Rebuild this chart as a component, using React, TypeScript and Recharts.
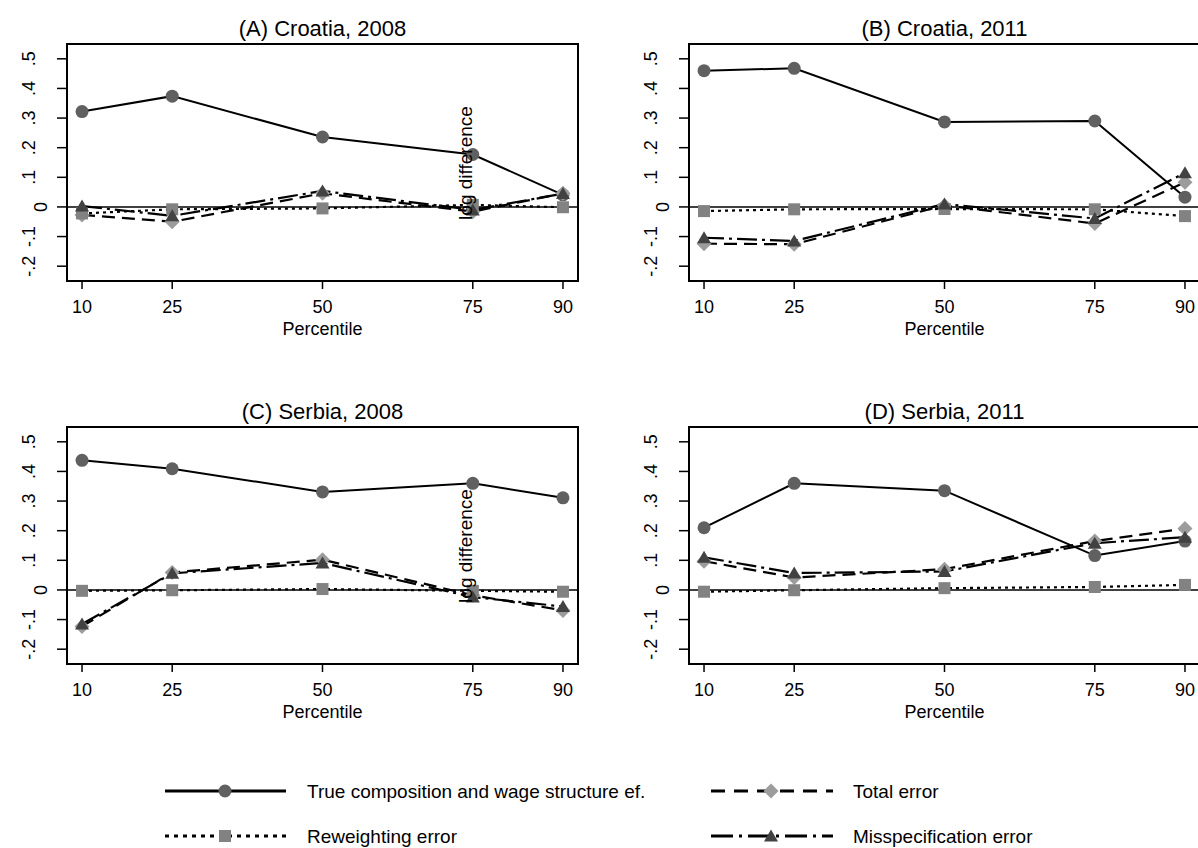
import React from 'react';
import { LineChart, Line, XAxis, YAxis, ReferenceLine, ReferenceArea } from 'recharts';

const FONT = '"Liberation Sans", Arial, sans-serif';

const percentiles = [10, 25, 50, 75, 90];
const xTicks = [10, 25, 50, 75, 90];
const yTicks = [-0.2, -0.1, 0, 0.1, 0.2, 0.3, 0.4, 0.5];
const yTickLabels = ['-.2', '-.1', '0', '.1', '.2', '.3', '.4', '.5'];

const titles = ['(A) Croatia, 2008', '(B) Croatia, 2011', '(C) Serbia, 2008', '(D) Serbia, 2011'];

// (A) Croatia, 2008
const trueA = [0.322, 0.374, 0.236, 0.177, 0.041];
const totalA = [-0.027, -0.05, 0.046, -0.016, 0.046];
const reweightA = [-0.022, -0.008, -0.005, 0.007, -0.001];
const misspecA = [0.003, -0.03, 0.054, -0.01, 0.045];

// (B) Croatia, 2011
const trueB = [0.46, 0.468, 0.287, 0.29, 0.033];
const totalB = [-0.124, -0.126, 0.005, -0.056, 0.083];
const reweightB = [-0.014, -0.008, -0.007, -0.008, -0.031];
const misspecB = [-0.104, -0.115, 0.01, -0.039, 0.115];

// (C) Serbia, 2008
const trueC = [0.4375, 0.409, 0.331, 0.36, 0.311];
const totalC = [-0.123, 0.059, 0.102, -0.018, -0.069];
const reweightC = [-0.003, -0.001, 0.003, -0.003, -0.006];
const misspecC = [-0.115, 0.056, 0.091, -0.024, -0.056];

// (D) Serbia, 2011
const trueD = [0.21, 0.36, 0.335, 0.116, 0.165];
const totalD = [0.097, 0.042, 0.07, 0.165, 0.207];
const reweightD = [-0.006, -0.001, 0.006, 0.01, 0.017];
const misspecD = [0.11, 0.057, 0.0625, 0.158, 0.178];

const seriesNames = [
  'True composition and wage structure ef.',
  'Total error',
  'Reweighting error',
  'Misspecification error',
];

const CIRCLE = '#606060';
const DIAMOND = '#9c9c9c';
const SQUARE = '#828282';
const TRIANGLE = '#424242';

const DASH_TOTAL = '13 7';
const DASH_REW = '3 4';
const DASH_MIS = '20 5 3 5';

const circleDot = (p: any) => (
  <circle key={`c${p.index}`} cx={p.cx} cy={p.cy} r={6.5} fill={CIRCLE} />
);
const diamondDot = (p: any) => (
  <polygon
    key={`d${p.index}`}
    points={`${p.cx},${p.cy - 7.5} ${p.cx + 7.5},${p.cy} ${p.cx},${p.cy + 7.5} ${p.cx - 7.5},${p.cy}`}
    fill={DIAMOND}
  />
);
const squareDot = (p: any) => (
  <rect key={`s${p.index}`} x={p.cx - 6} y={p.cy - 6} width={12} height={12} fill={SQUARE} />
);
const triangleDot = (p: any) => (
  <polygon
    key={`t${p.index}`}
    points={`${p.cx},${p.cy - 6.5} ${p.cx + 7},${p.cy + 5.5} ${p.cx - 7},${p.cy + 5.5}`}
    fill={TRIANGLE}
  />
);

const XTick = (props: any) => {
  const { x, y, payload } = props;
  return (
    <text x={x} y={y + 22} textAnchor="middle" fontFamily={FONT} fontSize={18} fill="#000">
      {payload.value}
    </text>
  );
};

const YTick = (props: any) => {
  const { x, y, payload } = props;
  const i = yTicks.indexOf(payload.value);
  const label = yTickLabels[i];
  const bx = x - 20 + (label === '0' ? 12 : 0);
  return (
    <text
      x={bx}
      y={y}
      transform={`rotate(-90, ${bx}, ${y})`}
      textAnchor="middle"
      fontFamily={FONT}
      fontSize={18}
      fill="#000"
    >
      {label}
    </text>
  );
};

interface PanelProps {
  idx: number;
  left: number;
  top: number;
  tru: number[];
  total: number[];
  rew: number[];
  mis: number[];
}

function Panel({ idx, left, top, tru, total, rew, mis }: PanelProps) {
  const data = percentiles.map((p, i) => ({
    p,
    tru: tru[i],
    total: total[i],
    rew: rew[i],
    mis: mis[i],
  }));
  const showLogDiff = idx % 2 === 0;
  return (
    <div style={{ position: 'absolute', left, top, width: 600, height: 340 }}>
      <LineChart width={600} height={340} data={data} margin={{ top: 44, right: 22, left: 7, bottom: 9 }}>
        <XAxis
          dataKey="p"
          type="number"
          domain={[7.5, 92.5]}
          ticks={xTicks}
          allowDataOverflow
          interval={0}
          axisLine={false}
          tickSize={8}
          tickLine={{ stroke: '#000', strokeWidth: 1.5 }}
          height={50}
          tick={XTick}
        />
        <YAxis
          type="number"
          domain={[-0.25, 0.55]}
          ticks={yTicks}
          allowDataOverflow
          interval={0}
          axisLine={false}
          tickSize={10}
          tickLine={{ stroke: '#000', strokeWidth: 1.5 }}
          width={60}
          tick={YTick}
        />
        <ReferenceLine y={0} stroke="#000" strokeWidth={1.5} />
        <Line
          dataKey="tru"
          stroke="#000"
          strokeWidth={2}
          dot={circleDot}
          activeDot={false}
          isAnimationActive={false}
        />
        <Line
          dataKey="total"
          stroke="#000"
          strokeWidth={2.2}
          strokeDasharray={DASH_TOTAL}
          dot={diamondDot}
          activeDot={false}
          isAnimationActive={false}
        />
        <Line
          dataKey="rew"
          stroke="#000"
          strokeWidth={2.2}
          strokeDasharray={DASH_REW}
          dot={squareDot}
          activeDot={false}
          isAnimationActive={false}
        />
        <Line
          dataKey="mis"
          stroke="#000"
          strokeWidth={2.2}
          strokeDasharray={DASH_MIS}
          dot={triangleDot}
          activeDot={false}
          isAnimationActive={false}
        />
        <ReferenceArea
          x1={7.5}
          x2={92.5}
          y1={-0.25}
          y2={0.55}
          fill="none"
          fillOpacity={0}
          stroke="#000"
          strokeWidth={2}
          strokeOpacity={1}
        />
      </LineChart>
      <svg
        width={600}
        height={340}
        style={{ position: 'absolute', left: 0, top: 0, pointerEvents: 'none' }}
      >
        <text x={322.5} y={36} textAnchor="middle" fontFamily={FONT} fontSize={22} fill="#000">
          {titles[idx]}
        </text>
        <text x={322.5} y={335} textAnchor="middle" fontFamily={FONT} fontSize={18} fill="#000">
          Percentile
        </text>
        {showLogDiff && (
          <text
            x={472}
            y={163}
            transform="rotate(-90, 472, 163)"
            textAnchor="middle"
            fontFamily={FONT}
            fontSize={19}
            fill="#000"
          >
            log difference
          </text>
        )}
      </svg>
    </div>
  );
}

function LegendBlock() {
  const rows = [791, 836];
  const cols = [
    { x1: 165, x2: 286, mx: 225, tx: 307 },
    { x1: 711, x2: 833, mx: 771, tx: 853 },
  ];
  const items = [
    { row: 0, col: 0, dash: undefined, dot: circleDot },
    { row: 0, col: 1, dash: '14 9', dot: diamondDot },
    { row: 1, col: 0, dash: '4 5', dot: squareDot },
    { row: 1, col: 1, dash: '22 6 3 6', dot: triangleDot },
  ];
  return (
    <svg width={1198} height={848} style={{ position: 'absolute', left: 0, top: 0, pointerEvents: 'none' }}>
      {items.map((it, i) => {
        const y = rows[it.row];
        const c = cols[it.col];
        return (
          <g key={i}>
            <line x1={c.x1} x2={c.x2} y1={y} y2={y} stroke="#000" strokeWidth={3} strokeDasharray={it.dash} />
            {it.dot({ cx: c.mx, cy: y, index: i })}
            <text x={c.tx} y={y + 7} fontFamily={FONT} fontSize={19} fill="#000">
              {seriesNames[i]}
            </text>
          </g>
        );
      })}
    </svg>
  );
}

export default function App() {
  return (
    <div
      style={{
        position: 'absolute',
        left: 0,
        top: 0,
        width: 1198,
        height: 848,
        overflow: 'hidden',
        background: '#fff',
      }}
    >
      <Panel idx={0} left={0} top={0} tru={trueA} total={totalA} rew={reweightA} mis={misspecA} />
      <Panel idx={1} left={622} top={0} tru={trueB} total={totalB} rew={reweightB} mis={misspecB} />
      <Panel idx={2} left={0} top={383} tru={trueC} total={totalC} rew={reweightC} mis={misspecC} />
      <Panel idx={3} left={622} top={383} tru={trueD} total={totalD} rew={reweightD} mis={misspecD} />
      <LegendBlock />
    </div>
  );
}
